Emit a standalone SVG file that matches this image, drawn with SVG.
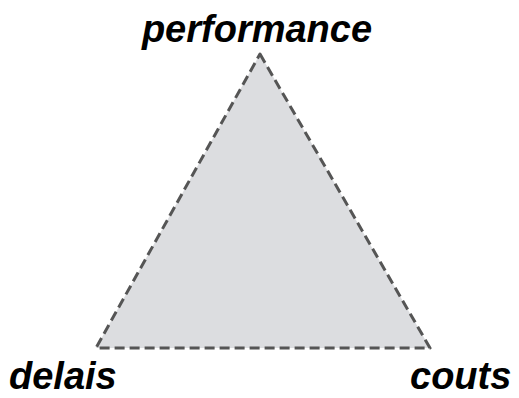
<svg xmlns="http://www.w3.org/2000/svg" width="519" height="398" viewBox="0 0 519 398">
  <style>
    .label { font-family: "Liberation Sans", Arial, sans-serif; font-weight: bold; font-style: italic; font-size: 38px; fill: #000; }
    .tri { fill: #dcdde0; stroke: #555; stroke-width: 3; stroke-dasharray: 10 5; stroke-linejoin: round; }
  </style>
  <rect width="519" height="398" fill="#fff"/>
  <g id="triangle">
    <polygon class="tri" points="260,54 430,348 96,348"/>
  </g>
  <g id="performance">
    <text class="label" x="257" y="42" text-anchor="middle">performance</text>
  </g>
  <g id="delais">
    <text class="label" x="9" y="389">delais</text>
  </g>
  <g id="couts">
    <text class="label" x="410" y="389">couts</text>
  </g>
</svg>
